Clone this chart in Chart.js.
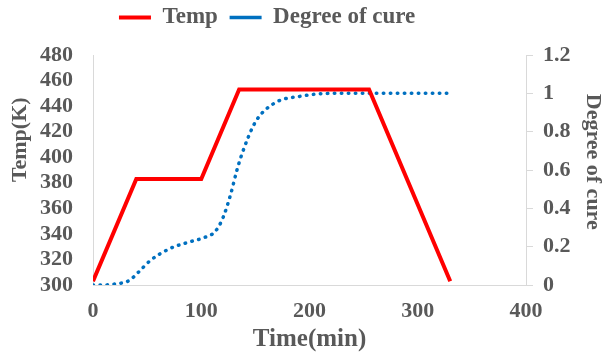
<!DOCTYPE html>
<html>
<head>
<meta charset="utf-8">
<script src="https://cdn.jsdelivr.net/npm/chart.js@4"></script>
<style>
  body { margin: 0; background: #fff; }
  #wrap { width: 609px; height: 352px; }
</style>
</head>
<body>
<div id="wrap"><canvas id="myChart"></canvas></div>
<script>
// temperature schedule
let tempTime = [0, 40, 100, 135, 255, 330];
let tempK = [303, 383, 383, 453, 453, 303];

// degree of cure
let cureTime = [0, 10, 20, 28, 34, 42, 53, 71, 90, 102, 113, 120, 127, 133, 138, 150, 168, 192, 220, 260, 300, 330];
let cure = [0, 0, 0.005, 0.012, 0.025, 0.067, 0.128, 0.19, 0.226, 0.246, 0.28, 0.35, 0.47, 0.6, 0.69, 0.85, 0.95, 0.985, 1, 1, 1, 1];

let xTicks = [0, 100, 200, 300, 400];

const grey = '#595959';
const axisLine = '#d9d9d9';
const font = (size, lh) => ({ family: 'Liberation Serif', weight: 'bold', size: size, lineHeight: lh || 1.2 });

let ctx = document.getElementById('myChart').getContext('2d');

let chart = new Chart(ctx, {
    type: 'line',
    data: {
        datasets: [{
            label: 'Temp',
            data: tempTime.map((t, i) => ({ x: t, y: tempK[i] })),
            borderColor: '#ff0000',
            backgroundColor: '#ff0000',
            borderWidth: 4,
            pointRadius: 0,
            pointStyle: 'line',
            yAxisID: 'y'
        }, {
            label: 'Degree of cure',
            data: cureTime.map((t, i) => ({ x: t, y: cure[i] })),
            borderColor: '#0070c0',
            backgroundColor: '#0070c0',
            borderWidth: 3.5,
            borderDash: [0.5, 6.5],
            borderCapStyle: 'round',
            cubicInterpolationMode: 'monotone',
            pointRadius: 0,
            pointStyle: 'line',
            yAxisID: 'y1'
        }]
    },
    options: {
        responsive: true,
        maintainAspectRatio: false,
        animation: false,
        layout: { padding: 0 },
        plugins: {
            legend: {
                display: true,
                labels: {
                    usePointStyle: true,
                    pointStyleWidth: 32,
                    boxHeight: 4,
                    color: grey,
                    font: font(23),
                    padding: 6,
                    // spaces keep the legend sitting left of centre like the original
                    generateLabels: (c) => {
                        let items = Chart.defaults.plugins.legend.labels.generateLabels(c);
                        items[0].text = items[0].text + ' ';
                        items[1].text = items[1].text + ' '.repeat(13);
                        return items;
                    }
                }
            },
            subtitle: {
                display: true,
                text: ' ',
                weight: 500,
                padding: 0,
                font: { size: 16, lineHeight: 1 }
            },
            tooltip: { enabled: false }
        },
        scales: {
            x: {
                type: 'linear',
                min: 0,
                max: 400,
                afterBuildTicks: (axis) => { axis.ticks = xTicks.map(v => ({ value: v })); },
                afterFit: (axis) => { axis.height = 67; },
                grid: { display: false },
                border: { display: true, color: axisLine },
                ticks: { color: grey, font: font(22), padding: 5 },
                title: { display: true, text: 'Time(min)', color: grey, font: font(25, 1), padding: 0 }
            },
            y: {
                position: 'left',
                min: 300,
                max: 480,
                afterFit: (axis) => { axis.width = 93; },
                ticks: { stepSize: 20, autoSkip: false, color: grey, font: font(22), padding: 12 },
                grid: { display: false },
                border: { display: true, color: axisLine },
                title: { display: true, text: ' '.repeat(11) + 'Temp(K)', color: grey, font: font(22, 1), padding: { top: 9, bottom: 0 } }
            },
            y1: {
                position: 'right',
                min: 0,
                max: 1.2,
                afterFit: (axis) => { axis.width = 83; },
                ticks: {
                    stepSize: 0.2, autoSkip: false, color: grey, font: font(22), padding: 10,
                    callback: (v) => String(Math.round(v * 10) / 10)
                },
                grid: { display: true, drawOnChartArea: false, color: axisLine, tickLength: 7 },
                border: { display: true, color: axisLine },
                title: { display: true, text: 'Degree of cure   ', color: grey, font: font(22, 1), padding: { top: 5, bottom: 0 } }
            }
        }
    }
});
</script>
</body>
</html>
